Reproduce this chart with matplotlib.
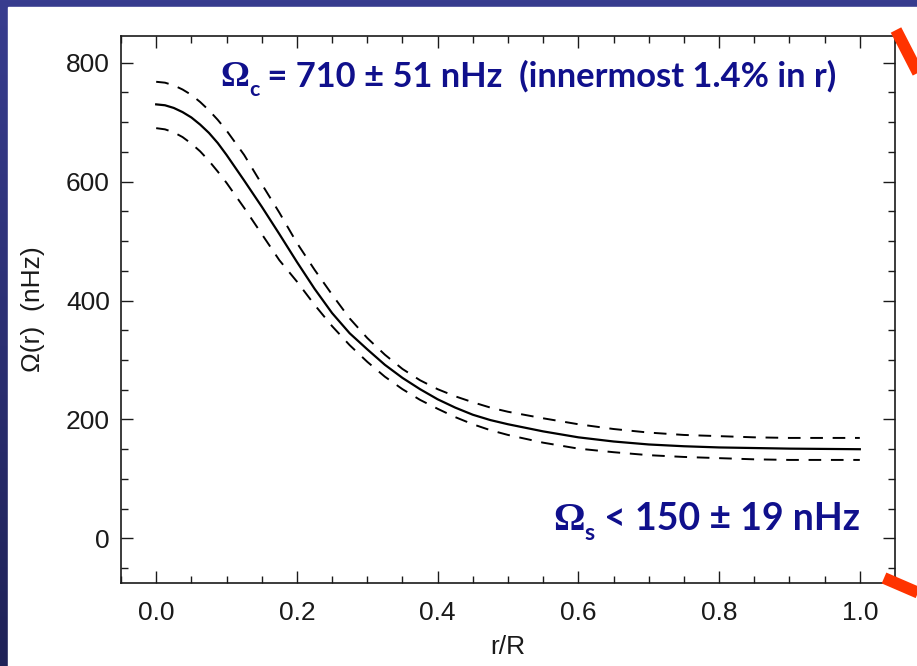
import matplotlib
matplotlib.use("Agg")
import matplotlib.pyplot as plt
import numpy as np
from matplotlib.colors import LinearSegmentedColormap
from matplotlib.lines import Line2D
from matplotlib.patches import Rectangle
from matplotlib.ticker import MultipleLocator

# rotation profile (r/R vs nHz)
r_over_R = [0.0, 0.0125, 0.025, 0.0375, 0.05, 0.0625, 0.075, 0.0875, 0.100,
            0.125, 0.150, 0.175, 0.200, 0.225, 0.250, 0.275, 0.300, 0.325,
            0.350, 0.375, 0.400, 0.425, 0.450, 0.475, 0.500, 0.550, 0.600,
            0.650, 0.700, 0.750, 0.800, 0.850, 0.900, 0.950, 1.000]
omega_best = [730, 728.5, 724, 717, 708, 696, 682, 665, 645,
              602, 558, 512, 465, 420, 379, 345, 318, 292,
              270, 251, 234, 220, 208, 199, 192, 180, 170,
              163, 158, 155, 153, 152, 151, 150.5, 150]
omega_upper = [768, 766.5, 762, 755, 746, 734, 720, 704, 686,
               645, 596, 548, 497, 452, 410, 370, 337, 309,
               285, 266, 251, 239, 229, 220, 213, 202, 192,
               184, 178, 174, 172, 170, 169, 169, 169]
omega_lower = [690, 688, 683, 675, 664, 651, 635, 617, 598,
               556, 512, 468, 432, 393, 357, 325, 297, 272,
               251, 233, 218, 204, 192, 182, 174, 161, 151,
               145, 140, 137, 135, 133, 132, 132, 132]

x_ticks = [0.0, 0.2, 0.4, 0.6, 0.8, 1.0]
x_tick_labels = ['0.0', '0.2', '0.4', '0.6', '0.8', '1.0']
y_ticks = [0, 200, 400, 600, 800]
y_tick_labels = ['0', '200', '400', '600', '800']

core_pieces = ['\u03a9', 'c', ' = 710 \u00b1 51 nHz  (innermost 1.4% in r)']
surface_pieces = ['\u03a9', 's', ' < 150 \u00b1 19 nHz']

NAVY = '#10108c'
SLIDE_TOP = '#383d8f'
SLIDE_BOTTOM = '#1f2257'
ARROW_RED = '#ff3300'
INK = '#1a1a1a'
TEXT_FONT = ['Lato', 'DejaVu Sans']
OMEGA_FONT = ['Liberation Serif', 'DejaVu Serif']

W, H = 917, 666

fig = plt.figure(figsize=(W / 100, H / 100), dpi=100)

# slide background: blue gradient with white panel on top
bg = fig.add_axes([0, 0, 1, 1], zorder=-10)
grad = np.linspace(0, 1, 256).reshape(-1, 1)
cmap = LinearSegmentedColormap.from_list('slide', [SLIDE_TOP, SLIDE_BOTTOM])
bg.imshow(grad, cmap=cmap, aspect='auto', extent=(0, 1, 0, 1), origin='upper')
bg.add_patch(Rectangle((8 / W, 0), 1, 1 - 7 / H, color='white',
                       transform=bg.transAxes))
bg.set_xlim(0, 1)
bg.set_ylim(0, 1)
bg.axis('off')

ax = fig.add_axes([121 / W, 83 / H, 774 / W, 547 / H])
ax.plot(r_over_R, omega_best, color='black', lw=1.6)
ax.plot(r_over_R, omega_upper, color='black', lw=1.4, dashes=(6.5, 5))
ax.plot(r_over_R, omega_lower, color='black', lw=1.4, dashes=(6.5, 5))

ax.set_xlim(-0.05, 1.05)
ax.set_ylim(-75, 845)
ax.set_xticks(x_ticks)
ax.set_xticklabels(x_tick_labels)
ax.set_yticks(y_ticks)
ax.set_yticklabels(y_tick_labels)
ax.xaxis.set_minor_locator(MultipleLocator(0.05))
ax.yaxis.set_minor_locator(MultipleLocator(50))
ax.tick_params(which='both', direction='in', top=True, right=True,
               width=1.0, color=INK)
ax.tick_params(which='major', length=8.5)
ax.tick_params(which='minor', length=5)
ax.tick_params(axis='x', pad=13)
ax.tick_params(axis='y', pad=8)
for lab in ax.get_xticklabels() + ax.get_yticklabels():
    lab.set_fontfamily('Liberation Sans')
    lab.set_fontsize(19)
    lab.set_color(INK)
for sp in ax.spines.values():
    sp.set_linewidth(1.2)
    sp.set_color(INK)

ax.set_xlabel('r/R', fontfamily='Liberation Sans', fontsize=19,
              color=INK, labelpad=7)
ax.set_ylabel('\u03a9(r)  (nHz)', fontfamily='Liberation Sans', fontsize=19,
              color=INK, labelpad=15)


def chained_label(pieces, x, y, size):
    """Omega symbol, subscript, then the rest, sharing one baseline."""
    omega, sub, rest = pieces
    t0 = ax.text(x, y, omega, transform=ax.transAxes, ha='left',
                 va='baseline', fontsize=size * 1.05, fontweight='bold',
                 family=OMEGA_FONT, color=NAVY)
    t1 = ax.annotate(sub, xy=(1, y), xycoords=(t0, ax.transAxes),
                     xytext=(0, -size * 0.28), textcoords='offset points',
                     ha='left', va='baseline', fontsize=size * 0.62,
                     fontweight='bold', family=TEXT_FONT, color=NAVY)
    ax.annotate(rest, xy=(1, y), xycoords=(t1, ax.transAxes),
                ha='left', va='baseline', fontsize=size,
                fontweight='bold', family=TEXT_FONT, color=NAVY)


chained_label(core_pieces, 0.128, 0.908, 24.8)
chained_label(surface_pieces, 0.558, 0.097, 27)

# red zoom lines leaving the figure on the right
for (x0, y0), (x1, y1) in [((896, 30), (935, 106)), ((884, 578), (935, 600))]:
    fig.add_artist(Line2D([x0 / W, x1 / W], [1 - y0 / H, 1 - y1 / H],
                          transform=fig.transFigure, color=ARROW_RED,
                          lw=8.5, solid_capstyle='butt'))

fig.savefig('out.png', dpi=100)
